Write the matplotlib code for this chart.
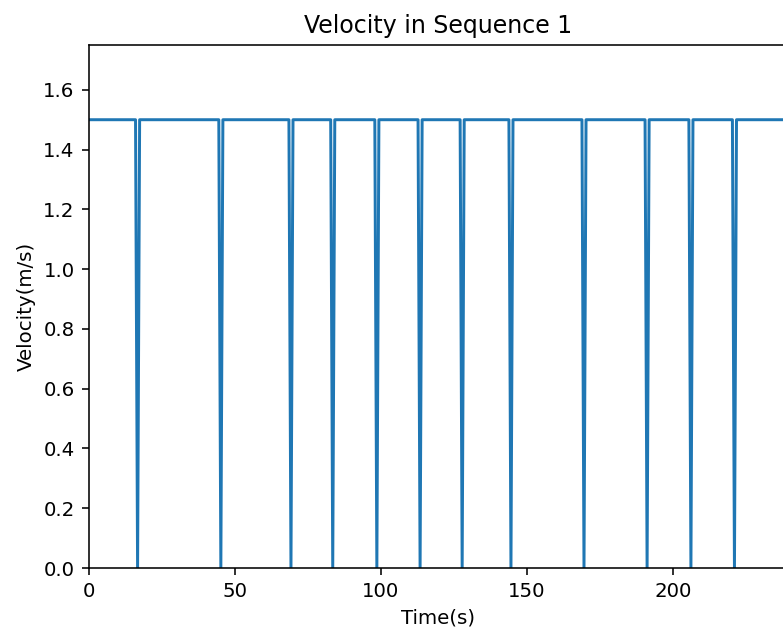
import matplotlib
matplotlib.use("Agg")
import matplotlib.pyplot as plt

# Data
cruise_speed = 1.5
stop_times = [16.8, 45.3, 69.3, 83.6, 98.7, 113.5, 127.9, 144.6, 169.6, 191.2, 206.2, 221.1]
half_window = 0.7
t_end = 240

t = [0.0]
v = [cruise_speed]
for s in stop_times:
    t += [s - half_window, s, s + half_window]
    v += [cruise_speed, 0.0, cruise_speed]
t.append(t_end)
v.append(cruise_speed)

DPI = 142
fig = plt.figure(figsize=(783 / DPI, 634 / DPI), dpi=DPI)
ax = fig.add_axes([88.5 / 783, 66 / 634, 700 / 783, 523 / 634])
ax.plot(t, v, color="#1f77b4", linewidth=1.5)
ax.set_xlim(0, 239.6)
ax.set_ylim(0, 1.75)
ax.set_xticks([0, 50, 100, 150, 200])
ax.set_title("Velocity in Sequence 1")
ax.set_xlabel("Time(s)")
ax.set_ylabel("Velocity(m/s)")
fig.savefig("out.png", dpi=DPI)
